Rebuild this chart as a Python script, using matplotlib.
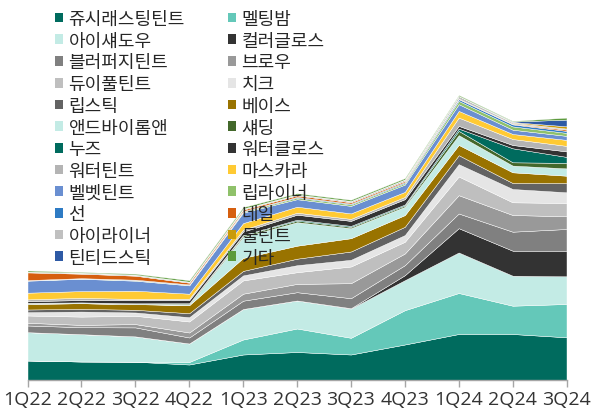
import matplotlib
matplotlib.use("Agg")
import matplotlib.pyplot as plt
from matplotlib.patches import Patch
import numpy as np

plt.rcParams['font.family'] = ['Noto Sans CJK KR', 'DejaVu Sans']

quarters = ["1Q22", "2Q22", "3Q22", "4Q22", "1Q23", "2Q23", "3Q23", "4Q23", "1Q24", "2Q24", "3Q24"]

labels = ["쥬시래스팅틴트", "멜팅밤", "아이섀도우", "컬러글로스", "블러퍼지틴트", "브로우",
          "듀이풀틴트", "치크", "립스틱", "베이스", "앤드바이롬앤", "섀딩",
          "누즈", "워터클로스", "워터틴트", "마스카라", "벨벳틴트", "립라이너",
          "선", "네일", "아이라이너", "물틴트", "틴티드스틱", "기타"]

juicy      = [19.5, 18.5, 18.3, 15.5, 25.5, 28.0, 25.5, 35.5, 46.0, 46.0, 42.7]
melting    = [0.0, 0.0, 0.0, 2.5, 15.0, 23.5, 16.7, 34.3, 41.0, 28.3, 33.3]
eyeshadow  = [28.3, 27.3, 25.3, 18.5, 30.5, 28.0, 29.3, 30.0, 40.5, 30.0, 27.7]
colorgloss = [0.0, 0.0, 0.0, 0.0, 0.0, 0.0, 0.3, 5.0, 24.3, 25.0, 25.6]
blurfudge  = [6.7, 7.0, 9.0, 6.0, 8.3, 8.3, 10.0, 10.0, 14.7, 19.0, 21.7]
brow       = [2.7, 2.3, 3.3, 5.0, 7.0, 8.3, 15.0, 11.7, 18.3, 16.7, 12.7]
dewyful    = [7.3, 8.3, 8.3, 11.0, 13.3, 11.7, 16.7, 11.7, 18.7, 12.7, 13.3]
cheek      = [3.3, 5.0, 3.3, 4.3, 5.0, 7.0, 6.7, 6.7, 12.3, 13.3, 10.7]
lipstick   = [2.7, 2.7, 2.7, 4.0, 4.5, 6.5, 8.3, 8.3, 9.0, 6.0, 9.3]
base       = [5.7, 5.7, 5.7, 8.0, 13.0, 13.0, 13.3, 11.7, 10.3, 10.7, 7.3]
andbyrom   = [0.0, 0.0, 0.0, 0.5, 21.0, 23.5, 10.0, 8.3, 9.7, 6.7, 7.3]
shading    = [0.7, 0.5, 0.5, 1.0, 1.5, 1.5, 1.3, 1.3, 4.3, 3.3, 5.5]
nuse       = [0.3, 0.3, 0.3, 0.5, 0.5, 1.0, 1.0, 1.0, 2.3, 14.0, 6.0]
watercloth = [1.7, 2.3, 3.3, 3.0, 3.3, 5.0, 5.0, 5.3, 2.7, 3.3, 5.5]
watertint  = [1.7, 2.3, 1.0, 1.5, 2.0, 2.0, 2.0, 2.3, 8.3, 6.0, 5.5]
mascara    = [6.7, 6.7, 8.3, 5.0, 6.5, 6.0, 5.5, 5.0, 6.7, 5.0, 6.0]
velvet     = [12.0, 12.3, 10.0, 8.3, 10.5, 7.5, 7.5, 7.3, 6.7, 4.3, 4.0]
lipliner   = [0.3, 0.3, 0.5, 0.5, 1.0, 1.5, 1.5, 1.5, 3.3, 3.3, 3.0]
sun        = [0.3, 0.3, 0.5, 0.5, 0.5, 0.8, 0.8, 1.0, 1.7, 2.0, 2.0]
nail       = [7.7, 4.5, 4.0, 1.7, 1.5, 1.5, 1.3, 1.2, 0.5, 0.5, 1.3]
eyeliner   = [0.7, 1.0, 1.0, 1.0, 1.0, 1.0, 1.3, 1.5, 2.7, 1.3, 1.0]
multint    = [0.0, 0.0, 0.0, 0.0, 0.0, 0.0, 0.0, 0.0, 0.0, 0.5, 2.3]
tinted     = [0.0, 0.0, 0.0, 0.0, 0.0, 0.0, 0.0, 0.0, 0.0, 0.5, 6.7]
etc        = [1.2, 0.7, 1.0, 1.5, 1.5, 1.2, 1.3, 1.3, 1.0, 0.7, 2.0]

series = [juicy, melting, eyeshadow, colorgloss, blurfudge, brow, dewyful, cheek,
          lipstick, base, andbyrom, shading, nuse, watercloth, watertint, mascara,
          velvet, lipliner, sun, nail, eyeliner, multint, tinted, etc]

colors = ["#006b5e", "#64c8b9", "#c3ebe5", "#333333", "#808080", "#999999",
          "#bfbfbf", "#e5e5e5", "#636363", "#997300", "#c3ebe5", "#43682b",
          "#006b5e", "#333333", "#b4b4b4", "#ffca33", "#6a8fd1", "#8fc16a",
          "#2e7bc4", "#d65f0f", "#c0c0c0", "#c99a0a", "#2e5aa5", "#5c9a3c"]

W, H = 592, 414
fig = plt.figure(figsize=(W / 100, H / 100), dpi=100)
ax = fig.add_axes([27.5 / W, 1 - 381 / H, 539 / W, 381 / H])

x = np.arange(len(quarters))
ax.stackplot(x, *series, colors=colors, edgecolor='white', linewidth=0.3)

ax.set_xlim(0, len(quarters) - 1)
ax.set_ylim(0, 381)
ax.set_xticks(x)
ax.set_xticklabels(quarters, fontsize=14, color='#333333')
ax.tick_params(axis='x', length=5, width=1, color='#a6a6a6', pad=2)
ax.set_yticks([])
for s in ['left', 'right', 'top']:
    ax.spines[s].set_visible(False)
ax.spines['bottom'].set_color('#a6a6a6')
ax.spines['bottom'].set_linewidth(1)
for lab in ax.get_xticklabels():
    lab.set_family(['Open Sans', 'DejaVu Sans'])

handles = [Patch(facecolor=c, edgecolor='none') for c in colors]
left_idx = list(range(0, 24, 2))
right_idx = list(range(1, 24, 2))

common = dict(frameon=False, fontsize=13, handlelength=0.45, handleheight=0.45,
              handletextpad=0.3, labelspacing=0.205, borderpad=0, borderaxespad=0,
              loc='upper left', bbox_transform=fig.transFigure)
leg1 = fig.legend([handles[i] for i in left_idx], [labels[i] for i in left_idx],
                  bbox_to_anchor=(55 / W, 1 - 11 / H), **common)
leg2 = fig.legend([handles[i] for i in right_idx], [labels[i] for i in right_idx],
                  bbox_to_anchor=(228 / W, 1 - 11 / H), **common)
for leg in (leg1, leg2):
    for t in leg.get_texts():
        t.set_color('#262626')

fig.savefig("out.png", dpi=100)
